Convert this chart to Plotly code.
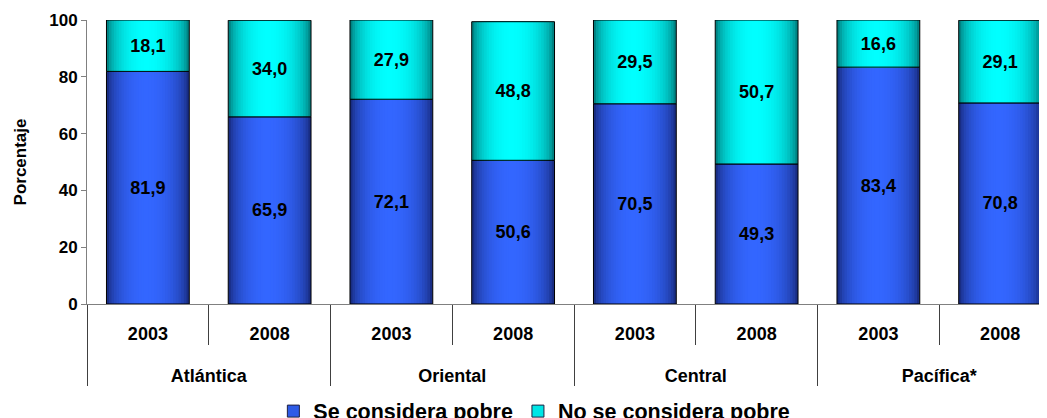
import plotly.graph_objects as go

regions = ["Atlántica", "Atlántica", "Oriental", "Oriental", "Central", "Central", "Pacífica*", "Pacífica*"]
years = ["2003", "2008", "2003", "2008", "2003", "2008", "2003", "2008"]
pobre = [81.9, 65.9, 72.1, 50.6, 70.5, 49.3, 83.4, 70.8]
no_pobre = [18.1, 34.0, 27.9, 48.8, 29.5, 50.7, 16.6, 29.1]

series_names = ["Se considera pobre", "No se considera pobre"]
peak_colors = [(51, 102, 255), (0, 255, 255)]
edge_colors = [(16, 26, 90), (0, 90, 90)]

BAR_W = 0.68
PEAK = -0.02 * BAR_W
N_LAYERS = 16
FONT = "Liberation Sans, Arial, sans-serif"

# year labels get an invisible spacer line so the region row sits lower
spacer = "<br><span style='font-size:47px'> </span>"
x = [regions, [y + spacer for y in years]]
fig = go.Figure()


def fmt(v):
    return f"{v:.1f}".replace(".", ",")


def mix(c0, c1, t):
    return "rgb(%d,%d,%d)" % tuple(round(a + (b - a) * t) for a, b in zip(c0, c1))


for s, (vals, base) in enumerate([(pobre, None), (no_pobre, pobre)]):
    left = -BAR_W / 2
    for k in range(N_LAYERS):
        a = 1 - k / N_LAYERS
        a_next = 1 - (k + 1) / N_LAYERS
        d = (a + a_next) / 2
        t = (1 - d ** 2) ** 0.5
        w = a * BAR_W
        off = PEAK - a * (PEAK - left)
        fig.add_trace(go.Bar(
            x=x, y=vals, base=base, width=w, offset=off,
            marker=dict(color=mix(edge_colors[s], peak_colors[s], t), line=dict(width=0)),
            showlegend=False, hoverinfo="skip",
        ))
    # outline + labels
    fig.add_trace(go.Bar(
        x=x, y=vals, base=base, width=BAR_W,
        marker=dict(color="rgba(0,0,0,0)", line=dict(color="black", width=1)),
        text=[fmt(v) for v in vals], textposition="inside", insidetextanchor="middle",
        textfont=dict(family=FONT, size=18, color="black", weight="bold"),
        showlegend=False, hoverinfo="skip",
    ))

# legend entries
for s in range(2):
    fig.add_trace(go.Bar(
        x=x, y=[None] * len(years), name=series_names[s],
        marker=dict(color=mix(edge_colors[s], peak_colors[s], 0.85),
                    line=dict(color="#202040", width=1)),
    ))

fig.update_layout(
    width=1039, height=410,
    barmode="overlay",
    paper_bgcolor="white", plot_bgcolor="white",
    margin=dict(l=79, r=0, t=12, b=114, autoexpand=False),
    font=dict(family=FONT, color="black"),
    showlegend=True,
    legend=dict(orientation="h", x=0.466, xanchor="center", y=-0.305, yanchor="top",
                font=dict(family=FONT, size=21.5, weight="bold"), traceorder="normal",
                itemwidth=30, bgcolor="rgba(0,0,0,0)"),
)
fig.update_yaxes(
    range=[0, 100], dtick=20, showgrid=False, zeroline=False,
    showline=True, linecolor="#808080", linewidth=1,
    ticks="outside", ticklen=5, tickcolor="#808080",
    tickfont=dict(family=FONT, size=17, weight="bold"),
    title=dict(text="Porcentaje", font=dict(family=FONT, size=17, weight="bold"), standoff=18),
)
fig.update_xaxes(
    type="multicategory", range=[-0.5, 7.385],
    showline=True, linecolor="#808080", linewidth=1, showgrid=False,
    ticks="outside", ticklen=40, tickcolor="#404040",
    showdividers=True, dividercolor="#404040", dividerwidth=1,
    ticklabelstandoff=13,
    tickfont=dict(family=FONT, size=18, weight="bold"),
)

fig.write_html("out.html")
